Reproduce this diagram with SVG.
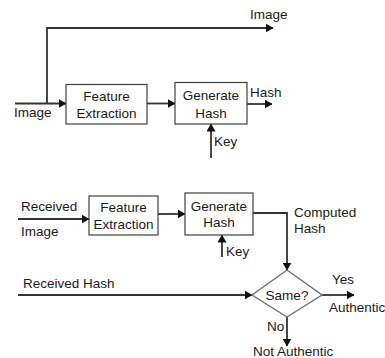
<svg xmlns="http://www.w3.org/2000/svg" width="385" height="358" viewBox="0 0 385 358">
  <style>
    .box { fill: #ffffff; stroke: #404040; stroke-width: 1.2; }
    .dia { fill: #ffffff; stroke: #707070; stroke-width: 1.4; }
    .line { fill: none; stroke: #333333; stroke-width: 1.8; }
    text { font-family: "Liberation Sans", Arial, sans-serif; font-size: 13.5px; fill: #1a1a1a; }
    .c { text-anchor: middle; }
  </style>
  <defs>
    <marker id="arrow" markerWidth="8" markerHeight="9" refX="7.5" refY="4.5" orient="auto" markerUnits="userSpaceOnUse">
      <path d="M0,0 L8,4.5 L0,9 Z" fill="#111111"/>
    </marker>
  </defs>

  <rect width="385" height="358" fill="#ffffff"/>

  <g id="connectors">
    <!-- hashing side -->
    <path class="line" d="M15,103.5 H66" marker-end="url(#arrow)"/>
    <path class="line" d="M47,103.5 V28 H273" marker-end="url(#arrow)"/>
    <path class="line" d="M147,103.5 H175" marker-end="url(#arrow)"/>
    <path class="line" d="M247,104 H272" marker-end="url(#arrow)"/>
    <path class="line" d="M211,158 V124" marker-end="url(#arrow)"/>
    <!-- verification side -->
    <path class="line" d="M18,219 H89" marker-end="url(#arrow)"/>
    <path class="line" d="M158,214 H185" marker-end="url(#arrow)"/>
    <path class="line" d="M253,213 H287 V270" marker-end="url(#arrow)"/>
    <path class="line" d="M222,257 V235" marker-end="url(#arrow)"/>
    <path class="line" d="M18,295 H252" marker-end="url(#arrow)"/>
    <path class="line" d="M322,295 H354" marker-end="url(#arrow)"/>
    <path class="line" d="M287,317 V346" marker-end="url(#arrow)"/>
  </g>

  <g id="feature1">
    <rect class="box" x="66" y="84.5" width="81" height="39.5"/>
    <text class="c" x="106.5" y="101">Feature</text>
    <text class="c" x="106.5" y="118">Extraction</text>
  </g>
  <g id="hash1">
    <rect class="box" x="175" y="82.5" width="72" height="41.5"/>
    <text class="c" x="211" y="100">Generate</text>
    <text class="c" x="211" y="118">Hash</text>
  </g>
  <g id="feature2">
    <rect class="box" x="89" y="196" width="69" height="39"/>
    <text class="c" x="123.5" y="212">Feature</text>
    <text class="c" x="123.5" y="229">Extraction</text>
  </g>
  <g id="hash2">
    <rect class="box" x="185" y="193" width="68" height="42"/>
    <text class="c" x="219" y="211">Generate</text>
    <text class="c" x="219" y="227">Hash</text>
  </g>
  <g id="same">
    <polygon class="dia" points="287,270 322,295 287,317 252,295"/>
    <text class="c" x="287" y="299.5">Same?</text>
  </g>

  <g id="labels">
    <text x="14" y="117">Image</text>
    <text x="250" y="19">Image</text>
    <text x="250" y="97">Hash</text>
    <text x="214" y="146">Key</text>
    <text x="21" y="211">Received</text>
    <text x="21" y="236">Image</text>
    <text x="294" y="217">Computed</text>
    <text x="294" y="233">Hash</text>
    <text x="226" y="256">Key</text>
    <text x="23" y="288">Received Hash</text>
    <text x="332" y="284">Yes</text>
    <text x="329" y="312">Authentic</text>
    <text x="267" y="331">No</text>
    <text x="253" y="356">Not Authentic</text>
  </g>
</svg>
